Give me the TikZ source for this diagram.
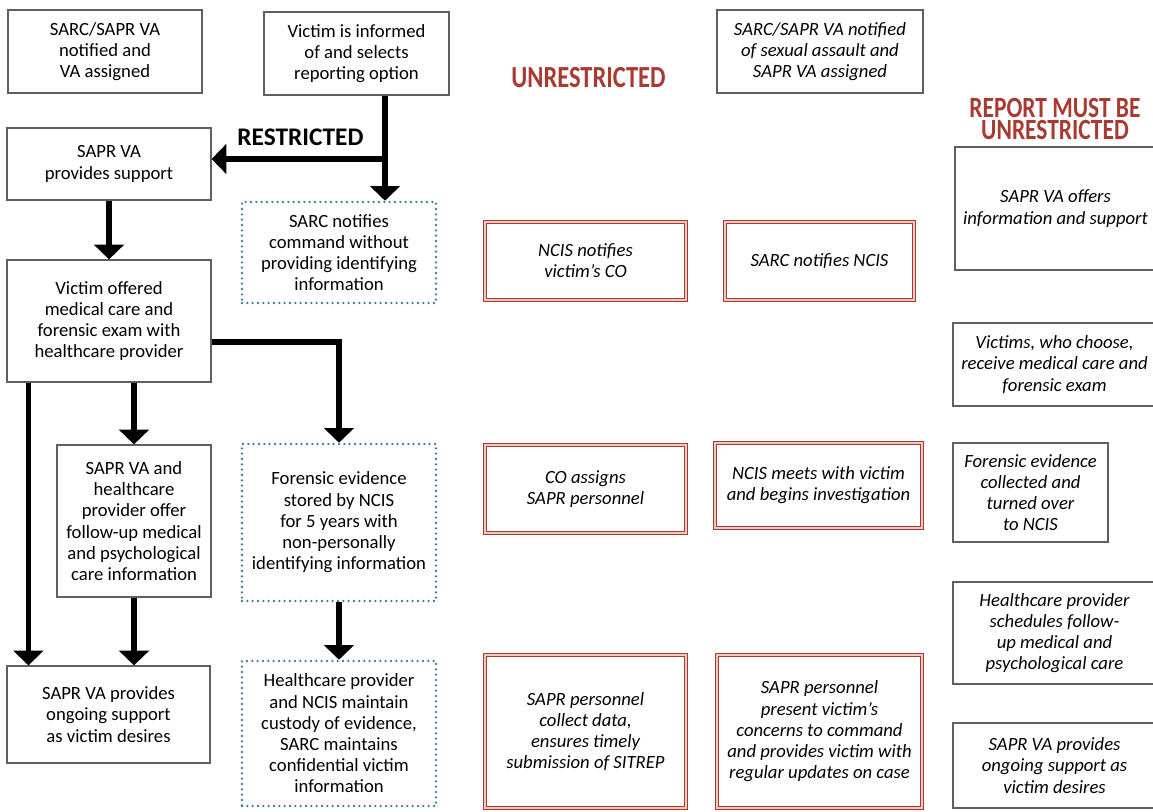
\documentclass[tikz,border=0pt]{standalone}
\usepackage{fontspec}
\setmainfont{Carlito}
\newfontfamily\headfont[FakeStretch=0.8]{Carlito}
\usetikzlibrary{arrows.meta}
\definecolor{sarcred}{RGB}{168,58,50}
\definecolor{dotblue}{RGB}{55,125,155}
\definecolor{boxgray}{RGB}{95,95,95}
\definecolor{pinkgap}{RGB}{240,200,190}

\begin{document}
\begin{tikzpicture}[x=0.75pt,y=-0.75pt,
	boxsize/.style 2 args={minimum width=#1*0.75pt,minimum height=#2*0.75pt},
	box/.style={draw=boxgray,line width=0.9pt,align=center,inner sep=0pt,font=\fontsize{14}{15.9}\selectfont},
	itbox/.style={box,font=\fontsize{14}{15.9}\selectfont\itshape},
	redbox/.style={itbox,draw=sarcred,line width=1pt,double=pinkgap,double distance=1.3pt},
	dotbox/.style={box,draw=dotblue,line width=1.9pt,dash pattern=on 0pt off 4pt,line cap=round},
	arr/.style={line width=3.8pt,-{Triangle[width=22pt,length=11pt]}},
	head/.style={text=sarcred,font=\headfont\bfseries\fontsize{23}{16}\selectfont,align=center}]
	\useasboundingbox (0,0) rectangle (1153,811);
	% restricted side
	\node[box,boxsize={194}{83}] (notified) at (105,51.5) {SARC/SAPR VA\\notified and\\VA assigned};
	\node[box,boxsize={185}{83}] (informed) at (356.5,53.5) {Victim is informed\\of and selects\\reporting option};
	\node[box,boxsize={204}{72}] (support) at (109,164) {SAPR VA\\provides support};
	\node[box,boxsize={204}{122}] (offered) at (109,321) {Victim offered\\medical care and\\forensic exam with\\healthcare provider};
	\node[box,boxsize={154}{152}] (followup) at (134,521) {SAPR VA and\\healthcare\\provider offer\\follow-up medical\\and psychological\\care information};
	\node[box,boxsize={203}{97}] (ongoing) at (108.5,714.5) {SAPR VA provides\\ongoing support\\as victim desires};
	\node[dotbox,boxsize={194}{101}] (command) at (339,252.5) {SARC notifies\\command without\\providing identifying\\information};
	\node[dotbox,boxsize={194}{157}] (stored) at (339,522.5) {Forensic evidence\\stored by NCIS\\for 5 years with\\non-personally\\identifying information};
	\node[dotbox,boxsize={194}{145}] (custody) at (339,733.5) {Healthcare provider\\and NCIS maintain\\custody of evidence,\\SARC maintains\\confidential victim\\information};
	\node[font=\bfseries\fontsize{19}{20}\selectfont] (restricted) at (300.5,137.5) {RESTRICTED};
	\coordinate (split) at (385,159);
	% connectors
	\draw[arr] (split |- informed.south) -- (split |- command.north);
	\draw[arr] (split) -- (split -| support.east);
	\draw[arr] (support.south) -- (offered.north);
	\draw[arr] ([yshift=-15.75pt]offered.east) -| (stored.north);
	\draw[arr] (followup.north |- offered.south) -- (followup.north);
	\draw[arr] ([xshift=16.5pt]offered.south west) -- ([xshift=16.5pt]offered.south west |- ongoing.north);
	\draw[arr] (followup.south) -- (followup.south |- ongoing.north);
	\draw[arr] (stored.south) -- (custody.north);
	% unrestricted side
	\node[head] (unrestricted) at (588.5,78) {UNRESTRICTED};
	\node[itbox,boxsize={206}{83}] (assault) at (820,51.5) {SARC/SAPR VA notified\\of sexual assault and\\SAPR VA assigned};
	\node[redbox,boxsize={201}{78}] (notifiesco) at (585.5,261) {NCIS notifies\\victim's CO};
	\node[redbox,boxsize={189}{78}] (notifiesncis) at (819.5,261) {SARC notifies NCIS};
	\node[redbox,boxsize={201}{88}] (assigns) at (585.5,489) {CO assigns\\SAPR personnel};
	\node[redbox,boxsize={207}{85}] (meets) at (818.5,485.5) {NCIS meets with victim\\and begins investigation};
	\node[redbox,boxsize={201}{153}] (collect) at (585.5,731.5) {SAPR personnel\\collect data,\\ensures timely\\submission of SITREP};
	\node[redbox,boxsize={205}{153}] (present) at (819.5,731.5) {SAPR personnel\\present victim's\\concerns to command\\and provides victim with\\regular updates on case};
	% report must be unrestricted
	\node[head,font=\headfont\bfseries\fontsize{22}{17}\selectfont] (mustbe) at (1055,119) {REPORT MUST BE\\UNRESTRICTED};
	\node[itbox,boxsize={201}{123}] (offers) at (1055.5,208.5) {SAPR VA offers\\information and support};
	\node[itbox,boxsize={203}{83}] (choose) at (1054.5,364.5) {Victims, who choose,\\receive medical care and\\forensic exam};
	\node[itbox,boxsize={155}{99}] (collected) at (1030.5,492.5) {Forensic evidence\\collected and\\turned over\\to NCIS};
	\node[itbox,boxsize={203}{102}] (schedules) at (1054.5,633) {Healthcare provider\\schedules follow-\\up medical and\\psychological care};
	\node[itbox,boxsize={203}{85}] (ongoingvic) at (1054.5,765.5) {SAPR VA provides\\ongoing support as\\victim desires};
\end{tikzpicture}
\end{document}
